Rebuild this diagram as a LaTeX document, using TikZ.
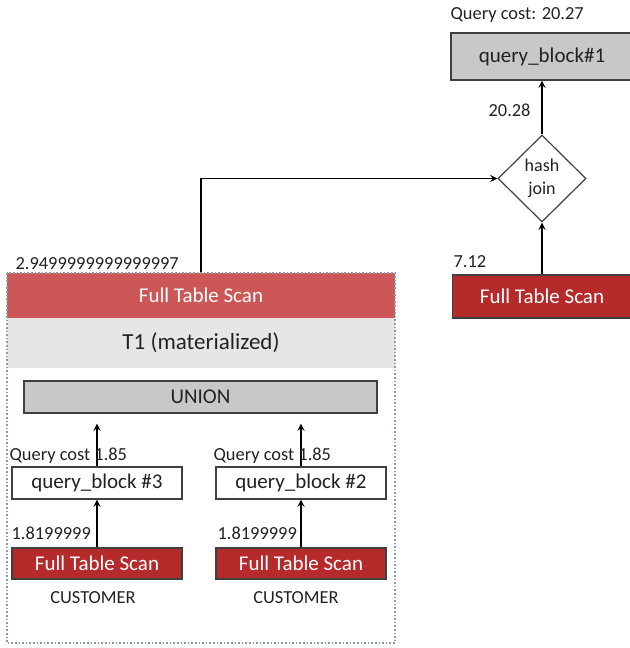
\documentclass[tikz,border=0pt]{standalone}
\usepackage{fontspec}
\setmainfont{Carlito}
\usetikzlibrary{shapes.geometric}

\definecolor{scanred}{HTML}{B52B2B}
\definecolor{headred}{HTML}{CD5656}
\definecolor{blockgray}{HTML}{C8C8C8}
\definecolor{matgray}{HTML}{E6E6E6}
\definecolor{frameblue}{HTML}{8C9AAD}
\definecolor{txt}{HTML}{222222}

\begin{document}
\begin{tikzpicture}[>=stealth, x=0.5pt, y=-0.5pt, line width=0.6pt,
  block/.style={draw=black!75, text=txt, minimum width=85pt, minimum height=16pt, inner sep=0pt, font=\fontsize{10.5}{12}\selectfont},
  scan/.style={block, fill=scanred, text=white},
  cost/.style={anchor=west, inner sep=0pt, text=txt, font=\fontsize{9.2}{11}\selectfont}]
  \useasboundingbox (0, 0) rectangle (630, 648);

  % query block 1 and the hash join
  \node[cost] (qonecost) at (450, 15) {Query cost: 20.27};
  \node[block, fill=blockgray, minimum width=91pt, minimum height=23.5pt] (qbone) at (542, 56.5) {query\_block\#1};
  \node[draw=black!75, diamond, aspect=1, minimum width=44pt, minimum height=43.5pt, inner sep=0pt,
        align=center, text=txt, font=\fontsize{9}{11.5}\selectfont] (hj) at (542, 178.5) {hash\\join};
  \node[scan, minimum width=89.5pt, minimum height=21.5pt] (fright) at (542, 296.5) {Full Table Scan};

  \draw[->] (hj) -- (qbone);
  \draw[->] (fright) -- (hj);
  \node[cost] (hjcost) at (488, 110) {20.28};
  \node[cost] (frcost) at (453, 262) {7.12};

  % materialized T1
  \node[fill=headred, text=white, minimum width=194pt, minimum height=22.5pt, inner sep=0pt,
        font=\fontsize{10.5}{12}\selectfont] (tscan) at (201, 295.5) {Full Table Scan};
  \node[fill=matgray, text=txt, minimum width=194pt, minimum height=25pt, inner sep=0pt,
        font=\fontsize{11.5}{13}\selectfont] (tmat) at (201, 343) {T1 (materialized)};
  \draw[frameblue, densely dotted, line width=0.8pt] (7, 273) rectangle (395, 643);
  \node[cost] (tcost) at (15, 264) {2.9499999999999997};
  \draw[->] (tscan.north) |- (hj.west);

  \node[block, fill=blockgray, minimum width=176.5pt] (union) at (200.5, 397) {UNION};

  \node[block, fill=white] (qbthree) at (97, 483) {query\_block \#3};
  \node[block, fill=white] (qbtwo) at (301, 483) {query\_block \#2};
  \node[scan, minimum height=15.5pt] (fthree) at (97, 563.5) {Full Table Scan};
  \node[scan, minimum height=15.5pt] (ftwo) at (301, 563.5) {Full Table Scan};

  \draw[->] (fthree) -- (qbthree);
  \draw[->] (ftwo) -- (qbtwo);
  \draw[->, shorten >=5pt] (qbthree.north) -- (qbthree.north |- union.south);
  \draw[->, shorten >=5pt] (qbtwo.north) -- (qbtwo.north |- union.south);

  \node[cost] (qthreecost) at (9, 456) {Query cost 1.85};
  \node[cost] (qtwocost) at (213, 456) {Query cost 1.85};
  \node[cost] (fthreecost) at (11, 533) {1.8199999};
  \node[cost] (ftwocost) at (217, 533) {1.8199999};
  \node[text=txt, font=\fontsize{9.2}{11}\selectfont] (cthree) at (93, 598) {CUSTOMER};
  \node[text=txt, font=\fontsize{9.2}{11}\selectfont] (ctwo) at (296, 598) {CUSTOMER};
\end{tikzpicture}
\end{document}
